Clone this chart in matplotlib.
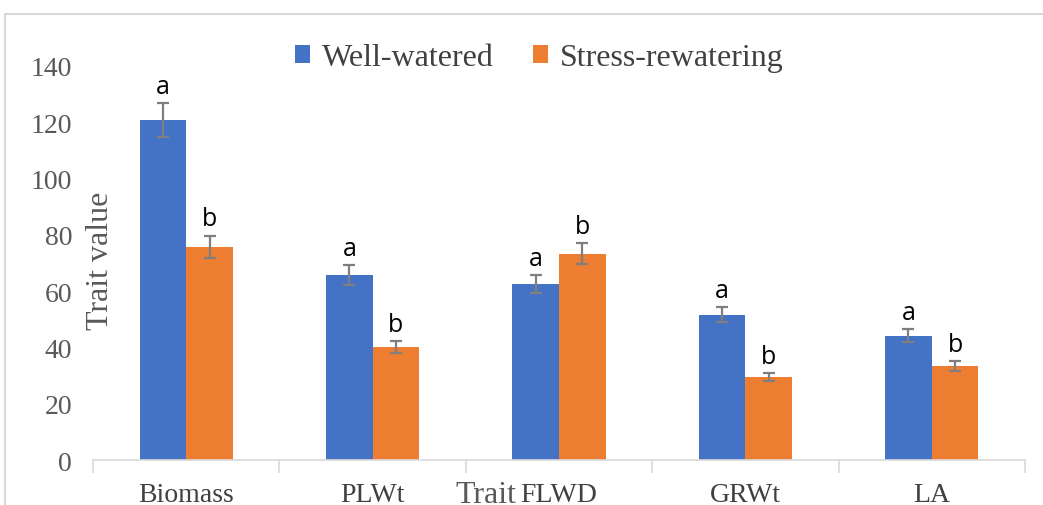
import matplotlib.pyplot as plt
import matplotlib.patches as mpatches
import numpy as np

traits = ["Biomass", "PLWt", "FLWD", "GRWt", "LA"]
well_watered = [120.8, 65.7, 62.5, 51.6, 44.2]
stress_rewatering = [75.7, 40.2, 73.3, 29.5, 33.4]
ww_err = [6.0, 3.5, 3.3, 2.7, 2.4]
sr_err = [4.0, 2.1, 3.7, 1.5, 1.8]
ww_letters = ["a", "a", "a", "a", "a"]
sr_letters = ["b", "b", "b", "b", "b"]

blue = "#4472C4"
orange = "#ED7D31"
serif = "Liberation Serif"
sans = "Open Sans"

fig = plt.figure(figsize=(10.43, 5.06), dpi=100)
ax = fig.add_axes([0.0892, 0.0889, 0.8935, 0.7787])

# light frame around the chart area (cropped Excel-style)
fig.patches.append(mpatches.Rectangle((0.0048, -0.2), 1.2, 1.17, transform=fig.transFigure,
                                      fill=False, edgecolor="#d9d9d9", linewidth=1.5))

x = np.arange(len(traits))
w = 0.25
ekw = dict(ecolor="#7f7f7f", elinewidth=1.6, capsize=4.5, capthick=1.6)
ax.bar(x - w / 2, well_watered, w, color=blue, yerr=ww_err, error_kw=ekw, label="Well-watered")
ax.bar(x + w / 2, stress_rewatering, w, color=orange, yerr=sr_err, error_kw=ekw, label="Stress-rewatering")

for i in range(len(traits)):
    ax.text(x[i] - w / 2, well_watered[i] + ww_err[i] + 1.5, ww_letters[i], ha="center", va="bottom",
            fontsize=18, family=sans)
    ax.text(x[i] + w / 2, stress_rewatering[i] + sr_err[i] + 1.5, sr_letters[i], ha="center", va="bottom",
            fontsize=18, family=sans)

ax.set_xlim(-0.5, len(traits) - 0.5)
ax.set_ylim(0, 140)
ax.set_yticks(range(0, 141, 20))
ax.set_xticks(x)
ax.set_xticklabels(traits, family=serif, fontsize=20, color="#404040")
ax.tick_params(axis="x", length=0, pad=16)
ax.tick_params(axis="y", length=0, pad=15, labelsize=20, labelcolor="#595959")
for lab in ax.get_yticklabels():
    lab.set_family(serif)

# separator ticks between categories
ax.set_xticks(np.arange(-0.5, len(traits), 1.0), minor=True)
ax.tick_params(axis="x", which="minor", length=9, color="#d9d9d9", width=1.2)

for s in ["top", "right", "left"]:
    ax.spines[s].set_visible(False)
ax.spines["bottom"].set_color("#d9d9d9")
ax.spines["bottom"].set_linewidth(1.2)

fig.text(100 / 1043, 1 - 261 / 506, "Trait value", family=serif, fontsize=23, color="#595959",
         rotation=90, ha="center", va="center")
fig.text(0.466, 0.006, "Trait", family=serif, fontsize=23, color="#595959", ha="center", va="baseline")

ax.legend(loc="center", bbox_to_anchor=(0.517, 0.884), bbox_transform=fig.transFigure, ncol=2,
          frameon=False, prop={"family": serif, "size": 23}, handlelength=0.47, handleheight=0.47,
          handletextpad=0.35, columnspacing=1.25, labelcolor="#404040")

fig.savefig("out.png", dpi=100)
